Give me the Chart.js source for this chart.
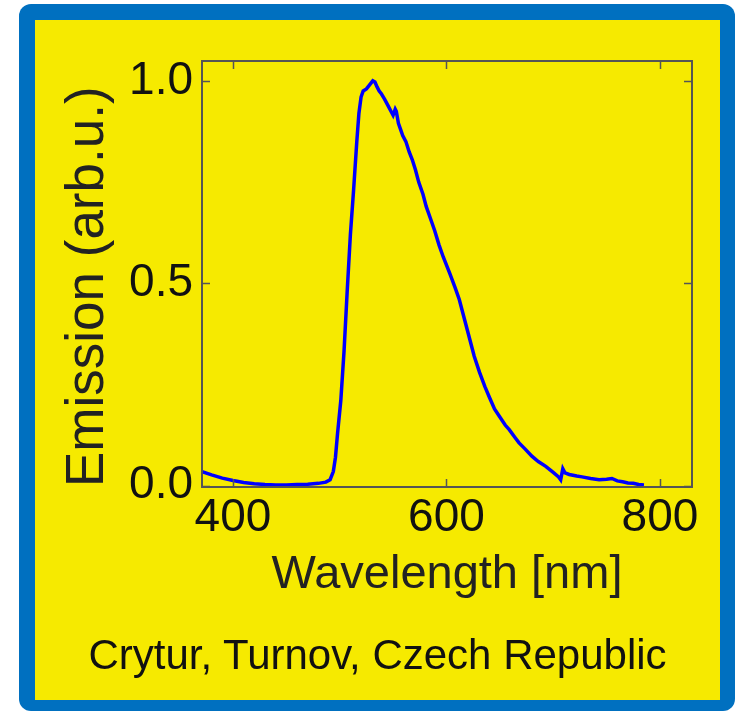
<!DOCTYPE html>
<html>
<head>
<meta charset="utf-8">
<script src="https://cdn.jsdelivr.net/npm/chart.js@4.4.1/dist/chart.umd.min.js"></script>
<style>
  html, body { margin: 0; padding: 0; background: #fff; }
  body { width: 735px; height: 712px; position: relative; overflow: hidden; }
  #frame { position: absolute; left: 19px; top: 4px; width: 716px; height: 707px;
           background: #0070c0; border-radius: 12px; }
  #panel { position: absolute; left: 35px; top: 20px; width: 685px; height: 680px; background: #f6ea00; }
  #chartBox { position: absolute; left: 0; top: 0; width: 685px; height: 680px; }
  #footer { position: absolute; left: 0; width: 685px; top: 611px; text-align: center;
            font-family: "Liberation Sans", Arial, sans-serif; font-size: 42px; color: #111; }
</style>
</head>
<body>
<div id="frame"></div>
<div id="panel">
  <div id="chartBox"><canvas id="myChart" width="685" height="680"></canvas></div>
  <div id="footer">Crytur, Turnov, Czech Republic</div>
</div>
<script>
// wavelength in nm, emission normalised
var wavelength = [371, 380, 390, 400, 410, 420, 430, 440, 450, 460, 470, 480, 487, 491, 494, 496, 498, 501, 504, 507,
  510, 513, 516, 518, 520, 522, 525, 528, 531, 533, 535, 537, 539, 542, 545, 548, 550, 552, 553, 555,
  557, 559, 562, 565, 568, 571, 574, 578, 581, 585, 589, 593, 597, 603, 608, 612, 617, 622, 626, 631,
  636, 640, 645, 650, 655, 659, 664, 668, 674, 680, 686, 693, 700, 705, 707, 709, 711, 715, 722, 727,
  735, 743, 750, 755, 760, 765, 770, 775, 780, 785];
var emission = [0.035, 0.027, 0.019, 0.013, 0.008, 0.005, 0.003, 0.002, 0.002, 0.003, 0.004, 0.006, 0.009, 0.015, 0.035, 0.07, 0.13, 0.21, 0.33, 0.48,
  0.62, 0.73, 0.85, 0.92, 0.96, 0.975, 0.98, 0.99, 1.0, 0.997, 0.985, 0.975, 0.968, 0.955, 0.94, 0.925, 0.915, 0.93, 0.925, 0.895,
  0.88, 0.865, 0.85, 0.825, 0.805, 0.78, 0.75, 0.72, 0.69, 0.66, 0.63, 0.595, 0.565, 0.525, 0.49, 0.46, 0.41, 0.36, 0.32, 0.28,
  0.245, 0.22, 0.19, 0.17, 0.15, 0.138, 0.12, 0.106, 0.09, 0.073, 0.06, 0.048, 0.033, 0.022, 0.015, 0.042, 0.032, 0.028, 0.024, 0.022,
  0.018, 0.015, 0.016, 0.018, 0.012, 0.01, 0.007, 0.006, 0.003, 0.002];
var xTicks = [400, 600, 800];
var yTicks = [0, 0.5, 1.0];

var points = wavelength.map(function(w, i){ return {x: w, y: emission[i]}; });
var fontName = '"Liberation Sans", Arial, sans-serif';

// box round the plot and inward ticks on all four sides
var boxPlugin = {
  id: 'boxTicks',
  afterDraw: function(chart){
    var ctx = chart.ctx, a = chart.chartArea;
    var xs = chart.scales.x, ys = chart.scales.y;
    ctx.save();
    ctx.strokeStyle = '#555';
    ctx.lineWidth = 2;
    ctx.strokeRect(a.left, a.top, a.right - a.left, a.bottom - a.top);
    ctx.lineWidth = 1.5;
    ctx.beginPath();
    xTicks.forEach(function(v){
      var px = Math.round(xs.getPixelForValue(v)) + 0.5;
      ctx.moveTo(px, a.bottom); ctx.lineTo(px, a.bottom - 8);
      ctx.moveTo(px, a.top); ctx.lineTo(px, a.top + 8);
    });
    yTicks.forEach(function(v){
      var py = Math.round(ys.getPixelForValue(v)) + 0.5;
      ctx.moveTo(a.left, py); ctx.lineTo(a.left + 8, py);
      ctx.moveTo(a.right, py); ctx.lineTo(a.right - 8, py);
    });
    ctx.stroke();
    ctx.restore();
  }
};

var ctx = document.getElementById('myChart').getContext('2d');
var myChart = new Chart(ctx, {
  type: 'line',
  data: {
    datasets: [{
      data: points,
      borderColor: '#0000ff',
      borderWidth: 3.5,
      pointRadius: 0,
      tension: 0,
      fill: false
    }]
  },
  options: {
    responsive: false,
    animation: false,
    layout: { padding: { left: 0, top: 41, right: 28, bottom: 0 } },
    plugins: { legend: { display: false }, tooltip: { enabled: false } },
    scales: {
      x: {
        type: 'linear',
        min: 371,
        max: 830,
        afterBuildTicks: function(s){ s.ticks = xTicks.map(function(v){ return {value: v}; }); },
        afterFit: function(s){ s.height = 213; },
        grid: { display: false, drawTicks: false },
        border: { display: false },
        ticks: { color: '#111', padding: 4, maxRotation: 0, font: { family: fontName, size: 46 } },
        title: { display: true, text: 'Wavelength [nm]', color: '#222', padding: { top: 0, bottom: 97 },
                 font: { family: fontName, size: 47 } }
      },
      y: {
        min: -0.003,
        max: 1.049,
        afterBuildTicks: function(s){ s.ticks = yTicks.map(function(v){ return {value: v}; }); },
        afterFit: function(s){ s.width = 167; },
        grid: { display: false, drawTicks: false },
        border: { display: false },
        ticks: { color: '#111', padding: 9, font: { family: fontName, size: 46 },
                 callback: function(v){ return v.toFixed(1); } },
        title: { display: true, text: 'Emission (arb.u.)', align: 'start', color: '#222',
                 padding: { top: 22, bottom: 0 }, font: { family: fontName, size: 53 } }
      }
    }
  },
  plugins: [boxPlugin]
});
</script>
</body>
</html>
